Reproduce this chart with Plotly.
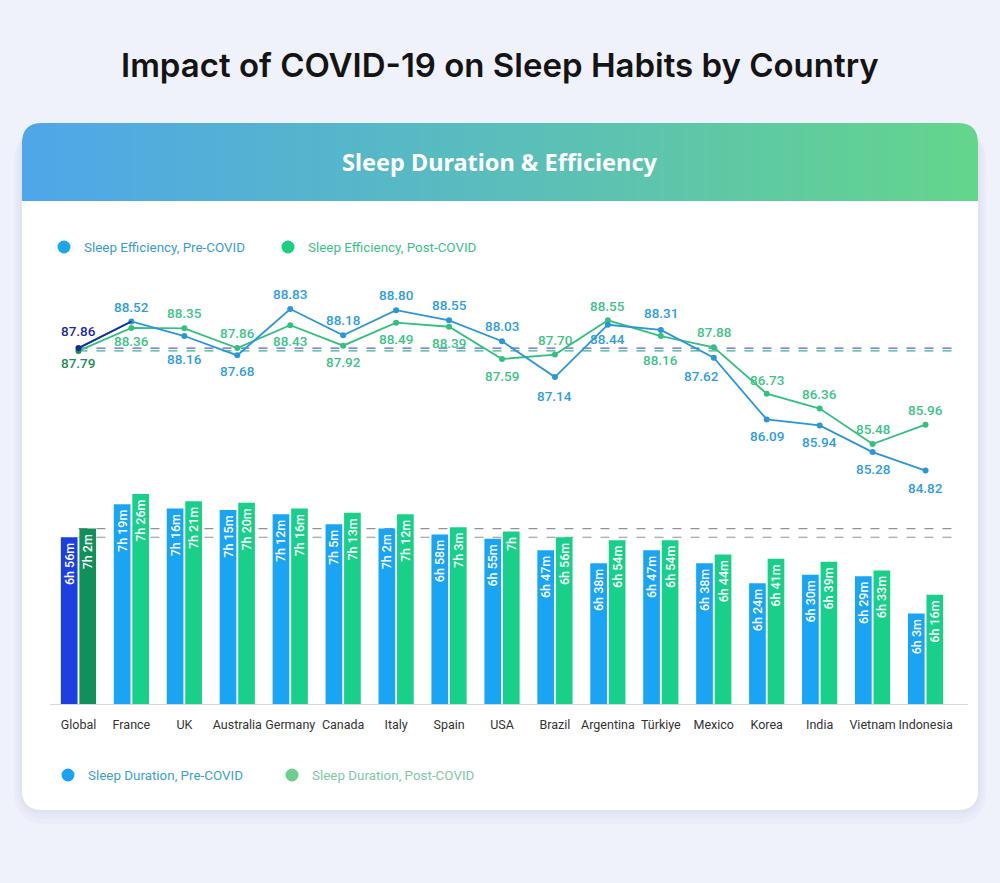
import plotly.graph_objects as go

# data
countries = ["Global", "France", "UK", "Australia", "Germany", "Canada", "Italy", "Spain",
             "USA", "Brazil", "Argentina", "Türkiye", "Mexico", "Korea", "India",
             "Vietnam", "Indonesia"]
eff_pre = [87.86, 88.52, 88.16, 87.68, 88.83, 88.18, 88.80, 88.55, 88.03, 87.14,
           88.44, 88.31, 87.62, 86.09, 85.94, 85.28, 84.82]
eff_post = [87.79, 88.36, 88.35, 87.86, 88.43, 87.92, 88.49, 88.39, 87.59, 87.70,
            88.55, 88.16, 87.88, 86.73, 86.36, 85.48, 85.96]
# sleep duration in minutes
dur_pre = [416, 439, 436, 435, 432, 425, 422, 418, 415, 407, 398, 407, 398, 384, 390, 389, 363]
dur_post = [422, 446, 441, 440, 436, 433, 432, 423, 420, 416, 414, 414, 404, 401, 399, 393, 376]

W, H = 1000, 883
BG = "#eff2fb"
FONT = "Roboto"


def px(x):
    return x / W


def py(y):
    return 1 - y / H


def fmt_dur(m):
    h, mm = divmod(m, 60)
    return f"{h}h {mm}m" if mm else f"{h}h"


def rrect(x0, y0, x1, y1, r):
    # rounded rectangle as svg path in paper coords
    pts = [
        f"M {px(x0 + r)},{py(y0)}", f"L {px(x1 - r)},{py(y0)}",
        f"Q {px(x1)},{py(y0)} {px(x1)},{py(y0 + r)}", f"L {px(x1)},{py(y1 - r)}",
        f"Q {px(x1)},{py(y1)} {px(x1 - r)},{py(y1)}", f"L {px(x0 + r)},{py(y1)}",
        f"Q {px(x0)},{py(y1)} {px(x0)},{py(y1 - r)}", f"L {px(x0)},{py(y0 + r)}",
        f"Q {px(x0)},{py(y0)} {px(x0 + r)},{py(y0)}", "Z",
    ]
    return " ".join(pts)


def lerp_color(c0, c1, t):
    return "rgb({},{},{})".format(*[round(a + (b - a) * t) for a, b in zip(c0, c1)])


fig = go.Figure()

# ---- bars: sleep duration
pre_bar_colors = ["#1d3fe0"] + ["#1aa4f4"] * (len(countries) - 1)
post_bar_colors = ["#10915c"] + ["#19d08a"] * (len(countries) - 1)
for vals, colors in [(dur_pre, pre_bar_colors), (dur_post, post_bar_colors)]:
    fig.add_trace(go.Bar(
        x=countries, y=vals, marker=dict(color=colors, line_width=0),
        text=[fmt_dur(v) + "\u2009" for v in vals], textposition="inside",
        insidetextanchor="end", textangle=-90,
        textfont=dict(color="white", size=12.5, family=FONT, weight=500),
        cliponaxis=True, showlegend=False, hoverinfo="skip",
    ))

# ---- lines: sleep efficiency
fig.add_trace(go.Scatter(
    x=countries, y=eff_post, xaxis="x2", yaxis="y2", mode="lines+markers",
    line=dict(color="#34c180", width=1.8),
    marker=dict(size=6, color=["#1f8a55"] + ["#34c180"] * (len(countries) - 1)),
    showlegend=False, hoverinfo="skip",
))
fig.add_trace(go.Scatter(
    x=countries, y=eff_pre, xaxis="x2", yaxis="y2", mode="lines+markers",
    line=dict(color="#2b96d9", width=1.8),
    marker=dict(size=6, color=["#1b2a99"] + ["#2b96d9"] * (len(countries) - 1)),
    showlegend=False, hoverinfo="skip",
))
# global -> france segment drawn in navy
fig.add_trace(go.Scatter(
    x=countries[:2], y=eff_pre[:2], xaxis="x2", yaxis="y2", mode="lines",
    line=dict(color="#1b2a99", width=1.8), showlegend=False, hoverinfo="skip",
))

# value label offsets in px (positive = above the point)
pre_shift = [17, 15, -23, -16, 15, 15, 15, 15, 15, -19, -14, 17, -18, -17, -17, -17, -17]
post_shift = [-12, -13, 15, 15, -16, -16, -16, -16, -17, 15, 14, -24, 15, 14, 15, 15, 15]
pre_xshift = {12: -12}
annotations = []
for vals, shifts, xs, col, gcol in [(eff_pre, pre_shift, pre_xshift, "#2f9ddf", "#1b2a99"),
                                    (eff_post, post_shift, {}, "#3ec388", "#1f8a55")]:
    for i, (c, v, s) in enumerate(zip(countries, vals, shifts)):
        annotations.append(dict(
            x=c, y=v, xref="x2", yref="y2", text=f"{v:.2f}", showarrow=False,
            yshift=s, xshift=xs.get(i, 0), yanchor="middle",
            font=dict(size=13.5, family=FONT, weight=500, color=gcol if i == 0 else col)))

shapes = []
# card shadow + card
for i, a in enumerate([0.05, 0.05, 0.06]):
    g = 14 - i * 5
    shapes.append(dict(type="path", xref="paper", yref="paper", layer="below",
                       path=rrect(22 - g * 0.6, 123 + 6, 978 + g * 0.6, 810 + g, 20 + g),
                       fillcolor=f"rgba(150,160,205,{a})", line_width=0))
shapes.append(dict(type="path", xref="paper", yref="paper", layer="below",
                   path=rrect(22, 123, 978, 810, 20), fillcolor="white", line_width=0))

# gradient header
c0, c1 = (79, 166, 234), (100, 213, 140)
hx0, hx1, hy0, hy1, r = 22, 978, 123, 201, 20
step = 6
x = hx0 + r
while x < hx1 - r:
    t = (x + step / 2 - hx0) / (hx1 - hx0)
    shapes.append(dict(type="rect", xref="paper", yref="paper", layer="below",
                       x0=px(x), x1=px(min(x + step + 0.8, hx1 - r)), y0=py(hy1), y1=py(hy0),
                       fillcolor=lerp_color(c0, c1, t), line_width=0))
    x += step
shapes.append(dict(type="path", xref="paper", yref="paper", layer="below",
                   path=f"M {px(hx0)},{py(hy1)} L {px(hx0)},{py(hy0 + r)} "
                        f"Q {px(hx0)},{py(hy0)} {px(hx0 + r)},{py(hy0)} "
                        f"L {px(hx0 + r + 0.5)},{py(hy0)} L {px(hx0 + r + 0.5)},{py(hy1)} Z",
                   fillcolor=lerp_color(c0, c1, 0.01), line_width=0))
shapes.append(dict(type="path", xref="paper", yref="paper", layer="below",
                   path=f"M {px(hx1 - r - 0.5)},{py(hy0)} L {px(hx1 - r)},{py(hy0)} "
                        f"Q {px(hx1)},{py(hy0)} {px(hx1)},{py(hy0 + r)} "
                        f"L {px(hx1)},{py(hy1)} L {px(hx1 - r - 0.5)},{py(hy1)} Z",
                   fillcolor=lerp_color(c0, c1, 0.99), line_width=0))

# global reference lines
shapes.append(dict(type="line", xref="x2", yref="y2", x0=0, x1=16.6, y0=eff_pre[0], y1=eff_pre[0],
                   line=dict(color="#5b62d4", width=1.3, dash="dash"), layer="below"))
shapes.append(dict(type="line", xref="x2", yref="y2", x0=0, x1=16.6, y0=eff_post[0], y1=eff_post[0],
                   line=dict(color="#37b28f", width=1.3, dash="dash"), layer="below"))
for v in (dur_pre[0], dur_post[0]):
    shapes.append(dict(type="line", xref="x", yref="y", x0=0, x1=16.6, y0=v, y1=v,
                       line=dict(color="#8f9498", width=1.1, dash="dash"), layer="below"))

# legend dots
legend_items = [
    (64, 247, "#1ea5f0", "Sleep Efficiency, Pre-COVID", "#3a9ad6"),
    (288, 247, "#1ccf85", "Sleep Efficiency, Post-COVID", "#3dbf8a"),
    (68, 775, "#1aa3f5", "Sleep Duration, Pre-COVID", "#3a9fcf"),
    (292, 775, "#6ccf8f", "Sleep Duration, Post-COVID", "#7fc7a9"),
]
for cx, cy, dot, label, tcol in legend_items:
    shapes.append(dict(type="circle", xref="paper", yref="paper",
                       x0=px(cx - 6.5), x1=px(cx + 6.5), y0=py(cy + 6.5), y1=py(cy - 6.5),
                       fillcolor=dot, line_width=0))
    annotations.append(dict(x=px(cx + 18), y=py(cy), xref="paper", yref="paper",
                            text=label, showarrow=False, xanchor="left", yanchor="middle",
                            font=dict(size=13.4, color=tcol, family=FONT)))

annotations.append(dict(x=0.5, y=py(65), xref="paper", yref="paper", yanchor="middle",
                        text="Impact of COVID-19 on Sleep Habits by Country", showarrow=False,
                        font=dict(size=33, color="#141414", family="Inter", weight=600)))
annotations.append(dict(x=0.5, y=py(162), xref="paper", yref="paper", yanchor="middle",
                        text="Sleep Duration & Efficiency", showarrow=False,
                        font=dict(size=23.5, color="white", family="Noto Sans", weight=700)))

x_dom = [px(50.4), px(967.9)]
x_rng = [-0.53, 16.8]
fig.update_layout(
    width=W, height=H, margin=dict(l=0, r=0, t=0, b=0),
    paper_bgcolor=BG, plot_bgcolor="rgba(0,0,0,0)",
    barmode="group", bargap=0.30, bargroupgap=0.1,
    uniformtext=dict(minsize=12, mode="show"),
    shapes=shapes, annotations=annotations, showlegend=False,
    xaxis=dict(domain=x_dom, range=x_rng, type="category", categoryarray=countries,
               showline=True, linecolor="#d6d8dc", linewidth=1.2, showgrid=False,
               ticks="outside", ticklen=9, tickcolor="rgba(0,0,0,0)",
               tickfont=dict(size=12.5, color="#333333", family=FONT), anchor="y"),
    yaxis=dict(domain=[py(704.3), py(488.3)], range=[300, 450], visible=False),
    xaxis2=dict(domain=x_dom, range=x_rng, type="category", categoryarray=countries,
                visible=False, anchor="y2"),
    yaxis2=dict(domain=[py(483.5), py(294.1)], range=[84.5, 89.2], visible=False,
                anchor="x2"),
)

fig.write_html("out.html", config={"displayModeBar": False},
               post_script="document.body.style.margin='0';"
                           "document.body.style.background='" + BG + "';")
